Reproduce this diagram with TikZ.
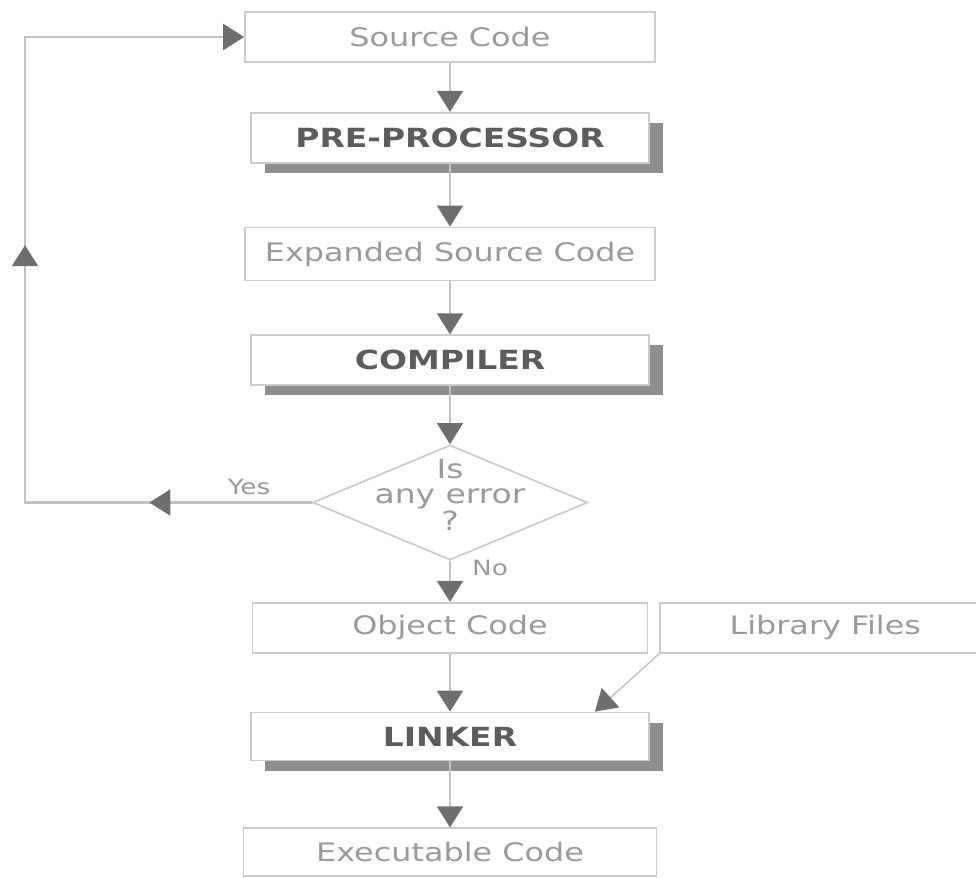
\documentclass[tikz,border=0pt]{standalone}
\usepackage{fontspec}
\setmainfont{DejaVu Sans}[FakeStretch=1.25]
\usepackage{tikz}
\usetikzlibrary{arrows.meta,positioning,shapes.geometric,shadows,decorations.markings}

\definecolor{boxline}{HTML}{CCCCCC}
\definecolor{boxtext}{HTML}{9A9A9A}
\definecolor{boldtext}{HTML}{5C5C5C}
\definecolor{shade}{HTML}{8E8E8E}
\definecolor{flowline}{HTML}{C2C2C2}
\definecolor{tipgray}{HTML}{6E6E6E}

\begin{document}
\begin{tikzpicture}[node distance=1.2cm,>={Triangle[length=4.2mm,width=5.2mm,color=tipgray]},
  file/.style={draw=boxline,line width=1pt,fill=white,text=boxtext,minimum width=8.2cm,minimum height=1cm,font=\fontsize{14.5}{17}\selectfont},
  tool/.style={draw=boxline,line width=1pt,fill=white,text=boldtext,minimum width=7.96cm,minimum height=1cm,font=\fontsize{15}{17}\selectfont\bfseries,
    drop shadow={shadow xshift=0.28cm,shadow yshift=-0.2cm,fill=shade,opacity=1}},
  test/.style={diamond,draw=boxline,line width=1pt,fill=white,inner sep=0pt,minimum width=5.5cm,minimum height=2.3cm},
  flow/.style={->,draw=flowline,line width=0.8pt},
  tag/.style={text=boxtext,font=\fontsize{12}{14}\selectfont}]

\useasboundingbox (0,0) rectangle (19.52,-17.56);

% main chain
\node[file] (src) at (9,-0.74) {Source Code};
\node[tool,below=0.98cm of src] (pre) {PRE-PROCESSOR};
\node[file,below=1.26cm of pre,minimum height=1.06cm] (exp) {Expanded Source Code};
\node[tool,below=1.06cm of exp] (cmp) {COMPILER};
\node[test,below=1.16cm of cmp] (err) {};
\node[text=boxtext,font=\fontsize{15}{14}\selectfont,align=center,inner sep=0pt] (errq) at ([yshift=0.15cm]err.center) {Is\\any error\\?};
\node[file,below=0.82cm of err,minimum width=7.9cm] (obj) {Object Code};
\node[file,right=0.22cm of obj,minimum width=6.6cm] (lib) {Library Files};
\node[tool,below=1.16cm of obj,minimum height=0.96cm] (lnk) {LINKER};
\node[file,below=1.32cm of lnk,minimum width=8.26cm,minimum height=0.96cm] (exe) {Executable Code};

\draw[flow] (src) -- (pre);
\draw[flow] (pre) -- (exp);
\draw[flow] (exp) -- (cmp);
\draw[flow] (cmp) -- (err);
\draw[flow] (err) -- (obj);
\draw[flow] (obj) -- (lnk);
\draw[flow] (lib.south west) -- ([xshift=-1.1cm]lnk.north east);
\draw[flow] (lnk) -- (exe);

% error loop back to the source
\coordinate (back) at (0.5,-0.74);
\draw[flow,line width=1.4pt,
  decoration={markings,mark=at position 0.167 with {\arrow{>}},mark=at position 0.56 with {\arrow{>}}},
  postaction={decorate}] (err.west) -| (back) -- (src.west);

\node[tag] (yes) at ([xshift=-1.25cm,yshift=0.32cm]err.west) {Yes};
\node[tag] (no) at ([xshift=0.8cm,yshift=-0.15cm]err.south) {No};
\end{tikzpicture}
\end{document}
